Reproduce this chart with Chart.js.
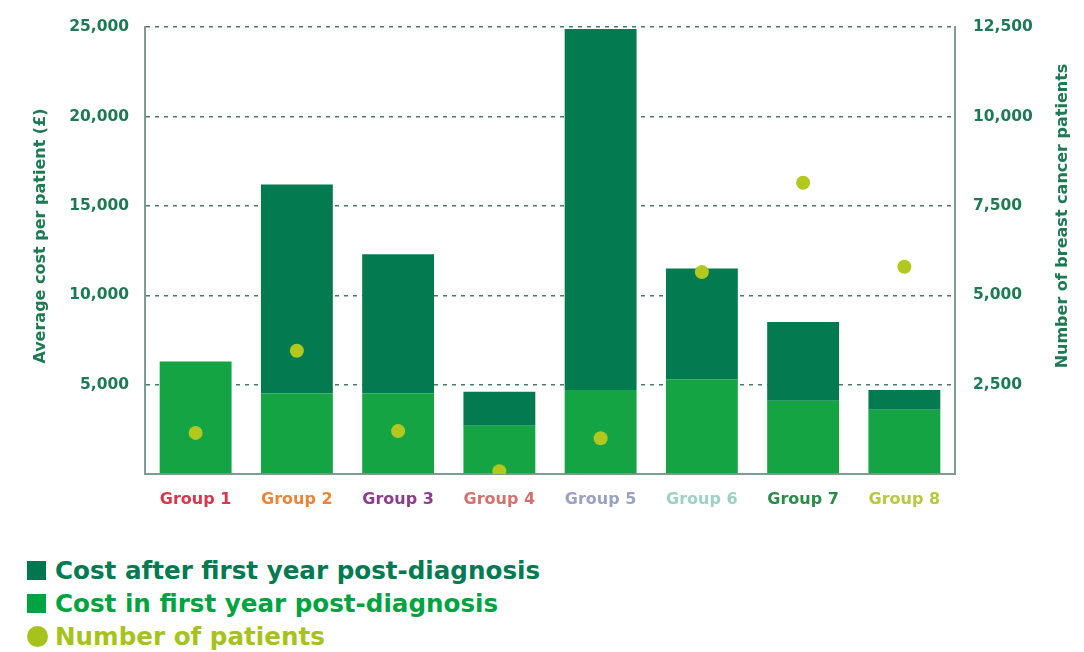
<!DOCTYPE html>
<html>
<head>
<meta charset="utf-8">
<script src="https://cdn.jsdelivr.net/npm/chart.js@4.4.1/dist/chart.umd.min.js"></script>
<style>
  html, body { margin: 0; padding: 0; background: #fff; }
  #wrap { position: relative; width: 1084px; height: 652px; overflow: hidden; }
  #box { position: absolute; left: 0; top: 0; width: 1084px; height: 530px; }
  #legend { position: absolute; left: 27px; top: 554px; font-family: "DejaVu Sans", sans-serif; font-weight: 700; font-size: 24.6px; line-height: 33px; }
  #legend div { display: flex; align-items: center; white-space: nowrap; }
  #legend .sw { display: inline-block; width: 19px; height: 19px; margin-right: 9px; }
  #legend .dot { border-radius: 50%; width: 21px; height: 21px; margin-right: 7px; }
</style>
</head>
<body>
<div id="wrap">
  <div id="box"><canvas id="chart"></canvas></div>
  <div id="legend">
    <div style="color:#007a50"><span class="sw" style="background:#00774f"></span>Cost after first year post-diagnosis</div>
    <div style="color:#00a33f"><span class="sw" style="background:#00a33f"></span>Cost in first year post-diagnosis</div>
    <div style="color:#a6c21c"><span class="sw dot" style="background:#a6c21c"></span>Number of patients</div>
  </div>
</div>
<script>
const groups = ["Group 1", "Group 2", "Group 3", "Group 4", "Group 5", "Group 6", "Group 7", "Group 8"];
const groupColors = ["#d8374c", "#ec853a", "#8c3d8e", "#d4716f", "#9aa2c2", "#9fd0c2", "#2b8c4a", "#b9c93e"];
const costFirstYear = [6300, 4500, 4500, 2700, 4700, 5300, 4100, 3600];
const costAfterFirstYear = [0, 11700, 7800, 1900, 20200, 6200, 4400, 1100];
const patients = [1150, 3450, 1200, 80, 1000, 5650, 8150, 5800];
const costTicks = [5000, 10000, 15000, 20000, 25000];
const patientTicks = [2500, 5000, 7500, 10000, 12500];

const axisGreen = "#1e7a54";
const fontFamily = "'DejaVu Sans', sans-serif";

// axis titles drawn bottom-to-top on both sides
const axisTitles = {
  id: "axisTitles",
  afterDraw(chart) {
    const ctx = chart.ctx;
    const titles = [
      ["Average cost per patient (£)", 41, 236],
      ["Number of breast cancer patients", 1063, 216],
    ];
    titles.forEach(([text, x, y]) => {
      ctx.save();
      ctx.fillStyle = axisGreen;
      ctx.font = "bold 16px " + fontFamily;
      ctx.textAlign = "center";
      ctx.textBaseline = "middle";
      ctx.translate(x, y);
      ctx.rotate(-Math.PI / 2);
      ctx.fillText(text, 0, 0);
      ctx.restore();
    });
  },
};

new Chart(document.getElementById("chart"), {
  data: {
    labels: groups,
    datasets: [
      {
        type: "line",
        label: "Number of patients",
        data: patients,
        yAxisID: "y1",
        showLine: false,
        pointRadius: 7,
        pointHoverRadius: 7,
        pointBackgroundColor: "#b3c81f",
        pointBorderWidth: 0,
        order: 0,
      },
      {
        type: "bar",
        label: "Cost in first year post-diagnosis",
        data: costFirstYear,
        backgroundColor: "#14a444",
        yAxisID: "y",
        stack: "cost",
        barPercentage: 0.71,
        categoryPercentage: 1,
        order: 1,
      },
      {
        type: "bar",
        label: "Cost after first year post-diagnosis",
        data: costAfterFirstYear,
        backgroundColor: "#047a50",
        yAxisID: "y",
        stack: "cost",
        barPercentage: 0.71,
        categoryPercentage: 1,
        order: 1,
      },
    ],
  },
  options: {
    responsive: true,
    maintainAspectRatio: false,
    animation: false,
    layout: { padding: { top: 26, left: 0, right: 0, bottom: 0 } },
    plugins: {
      legend: { display: false },
      tooltip: { enabled: false },
    },
    scales: {
      x: {
        stacked: true,
        grid: { display: false },
        border: { display: true, color: "#7f9c90", width: 2 },
        ticks: {
          padding: 8,
          font: { family: fontFamily, size: 16, weight: "bold" },
          color: groupColors,
        },
        afterFit(scale) { scale.height = 56; },
      },
      y: {
        stacked: true,
        position: "left",
        min: 0,
        max: 25000,
        afterBuildTicks(scale) {
          scale.ticks = [0].concat(costTicks).map((v) => ({ value: v }));
        },
        grid: {
          color: "#4a7a6b",
          lineWidth: 1.6,
          drawTicks: false,
        },
        border: { display: true, color: "#7f9c90", width: 2, dash: [4, 5] },
        ticks: {
          padding: 16,
          color: axisGreen,
          font: { family: fontFamily, size: 15.5, weight: "bold" },
          callback(value) {
            return value === 0 ? "" : value.toLocaleString("en-GB");
          },
        },
        afterFit(scale) { scale.width = 145; },
      },
      y1: {
        position: "right",
        min: 0,
        max: 12500,
        afterBuildTicks(scale) {
          scale.ticks = [0].concat(patientTicks).map((v) => ({ value: v }));
        },
        grid: { drawOnChartArea: false, drawTicks: false },
        border: { display: true, color: "#7f9c90", width: 2 },
        ticks: {
          padding: 18,
          color: axisGreen,
          font: { family: fontFamily, size: 15.5, weight: "bold" },
          callback(value) {
            return value === 0 ? "" : value.toLocaleString("en-GB");
          },
        },
        afterFit(scale) { scale.width = 129; },
      },
    },
  },
  plugins: [axisTitles],
});
</script>
</body>
</html>
